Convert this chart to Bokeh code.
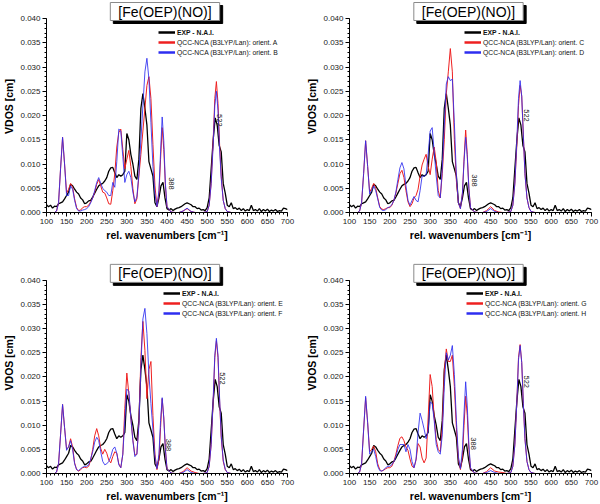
from bokeh.plotting import figure
from bokeh.models import (Label, Legend, LegendItem, SingleIntervalTicker,
                          NumeralTickFormatter, Range1d)
from bokeh.layouts import gridplot
from bokeh.embed import file_html
from bokeh.resources import INLINE

FONT = "Liberation Sans"
NAN = float("nan")

# ---------------- data ----------------
EXP_X = [100, 105, 110, 115, 120, 125, 130, 135, 140, 145,
         150, 155, 160, 165, 170, 175, 180, 185, 190, 195,
         200, 205, 210, 215, 220, 225, 230, 235, 240, 245,
         250, 255, 260, 265, 270, 275, 280, 285, 290, 295,
         300, 305, 310, 315, 320, 325, 330, 335, 340, 345,
         350, 355, 360, 365, 370, 375, 380, 385, 390, 395,
         400, 405, 410, 415, 420, 425, 430, 435, 440, 445,
         450, 455, 460, 465, 470, 475, 480, 485, 490, 495,
         500, 505, 510, 515, 520, 525, 530, 535, 540, 545,
         550, 555, 560, 565, 570, 575, 580, 585, 590, 595,
         600, 605, 610, 615, 620, 625, 630, 635, 640, 645,
         650, 655, 660, 665, 670, 675, 680, 685, 690, 695,
         700]
EXP_Y = [0.0016, 0.0012, 0.0015, 0.0009, 0.0013, 0.0012, 0.0018, 0.0020, 0.0022, 0.0028,
         0.0035, 0.0042, 0.0058, 0.0055, 0.0048, 0.0042, 0.0038, 0.0030, 0.0026, 0.0018,
         0.0020, 0.0024, 0.0025, 0.0032, 0.0040, 0.0048, 0.0055, 0.0058, 0.0060, 0.0065,
         0.0072, 0.0085, 0.0092, 0.0093, 0.0082, 0.0072, 0.0078, 0.0075, 0.0078, 0.0085,
         0.0163, 0.0150, 0.0120, 0.0100, 0.0075, 0.0068, 0.0110, 0.0215, 0.0245, 0.0215,
         0.0180, 0.0105, 0.0090, 0.0075, 0.0020, 0.0012, 0.0030, 0.0055, 0.0062, 0.0030,
         0.0008, 0.0005, 0.0008, 0.0004, 0.0007, 0.0009, 0.0010, 0.0012, 0.0015, 0.0018,
         0.0020, 0.0018, 0.0016, 0.0012, 0.0012, 0.0008, 0.0009, 0.0005, 0.0006, 0.0004,
         0.0010, 0.0030, 0.0090, 0.0150, 0.0195, 0.0180, 0.0138, 0.0125, 0.0060, 0.0040,
         0.0015, 0.0012, 0.0020, 0.0008, 0.0010, 0.0006, 0.0009, 0.0004, 0.0008, 0.0003,
         0.0006, 0.0004, 0.0015, 0.0004, 0.0006, 0.0003, 0.0008, 0.0002, 0.0006, 0.0003,
         0.0007, 0.0002, 0.0005, 0.0003, 0.0006, 0.0002, 0.0004, 0.0003, 0.0009, 0.0008,
         0.0006]

CALC_X = [100, 110, 120, 125, 130, 135, 140, 145, 150, 155,
          160, 165, 170, 175, 180, 185, 190, 195, 200, 205,
          210, 215, 220, 225, 230, 235, 240, 245, 250, 255,
          260, 265, 270, 275, 280, 285, 290, 295, 300, 305,
          310, 315, 320, 325, 330, 335, 340, 345, 350, 355,
          360, 365, 370, 375, 380, 384, 388, 392, 396, 400,
          410, 420, 430, 440, 450, 460, 470, 480, 490, 500,
          505, 510, 515, 519, 523, 527, 531, 535, 540, 545,
          550, 560, 600, 650, 700]

ORIENT_A = [0, 0, 0, 0.0003, 0.002, 0.009, 0.0155, 0.010, 0.004, 0.0048,
            0.006, 0.0052, 0.0028, 0.001, 0.0004, 0.0005, 0.001, 0.0012, 0.0012, 0.0015,
            0.0022, 0.003, 0.0042, 0.0058, 0.0068, 0.0055, 0.0042, 0.004, 0.003, 0.0018,
            0.0017, 0.0045, 0.008, 0.0135, 0.0165, 0.0172, 0.013, 0.009, 0.011, 0.0128,
            0.0095, 0.005, 0.0018, 0.0028, 0.0075, 0.012, 0.0168, 0.0215, 0.0262, 0.028,
            0.0235, 0.014, 0.0055, 0.0012, 0.004, 0.011, 0.0175, 0.013, 0.0055, 0.0012,
            0.0001, 0, 0, 0.0003, 0.0008, 0.0002, 0, 0, 0, 0.0002,
            0.0015, 0.006, 0.015, 0.0235, 0.027, 0.0225, 0.014, 0.0075, 0.0025, 0.0008,
            0.0002, 0, 0, 0, 0]
ORIENT_B = [0, 0, 0, 0.0003, 0.002, 0.009, 0.0155, 0.010, 0.0035, 0.0035,
            0.0055, 0.0048, 0.0025, 0.0008, 0.0003, 0.0003, 0.0005, 0.0006, 0.0008, 0.0012,
            0.002, 0.003, 0.0045, 0.0062, 0.0072, 0.006, 0.005, 0.0045, 0.0042, 0.0035,
            0.0035, 0.0062, 0.0052, 0.0105, 0.0172, 0.0168, 0.0115, 0.0062, 0.0078, 0.0085,
            0.0072, 0.0042, 0.0022, 0.0032, 0.008, 0.015, 0.022, 0.029, 0.0318, 0.0275,
            0.0185, 0.0095, 0.0038, 0.0012, 0.0045, 0.0125, 0.0197, 0.0148, 0.006, 0.0012,
            0.0001, 0, 0, 0.0003, 0.0009, 0.0002, 0, 0, 0, 0.0002,
            0.0015, 0.006, 0.014, 0.022, 0.025, 0.021, 0.013, 0.007, 0.0025, 0.0008,
            0.0002, 0, 0, 0, 0]
ORIENT_C = [0, 0, 0, 0.0003, 0.002, 0.008, 0.0148, 0.0095, 0.0042, 0.005,
            0.006, 0.005, 0.003, 0.0012, 0.0007, 0.0006, 0.0008, 0.001, 0.001, 0.0015,
            0.0025, 0.004, 0.006, 0.008, 0.0087, 0.0072, 0.0045, 0.0022, 0.0012, 0.0018,
            0.003, 0.0035, 0.0048, 0.0075, 0.0098, 0.011, 0.012, 0.0095, 0.0078, 0.011,
            0.0135, 0.0105, 0.0045, 0.003, 0.008, 0.015, 0.0245, 0.029, 0.0338, 0.029,
            0.015, 0.0065, 0.002, 0.0008, 0.004, 0.011, 0.017, 0.012, 0.005, 0.001,
            0.0001, 0, 0, 0.0004, 0.0012, 0.0004, 0.0001, 0, 0, 0.0002,
            0.0015, 0.006, 0.014, 0.022, 0.0262, 0.024, 0.016, 0.008, 0.003, 0.001,
            0.0002, 0, 0, 0, 0]
ORIENT_D = [0, 0, 0, 0.0003, 0.002, 0.008, 0.0148, 0.0095, 0.0038, 0.0045,
            0.0055, 0.0045, 0.0028, 0.001, 0.0005, 0.0004, 0.0006, 0.001, 0.0012, 0.0016,
            0.0025, 0.0042, 0.0068, 0.0092, 0.0103, 0.009, 0.0055, 0.0025, 0.0015, 0.0025,
            0.0033, 0.0025, 0.0022, 0.0045, 0.0075, 0.0075, 0.0078, 0.012, 0.0168, 0.0175,
            0.0125, 0.0075, 0.0035, 0.003, 0.009, 0.018, 0.0265, 0.028, 0.0272, 0.0275,
            0.0185, 0.0075, 0.002, 0.0008, 0.004, 0.0105, 0.0155, 0.0115, 0.0048, 0.001,
            0.0001, 0, 0, 0.0002, 0.0008, 0.0002, 0, 0, 0, 0.0002,
            0.0015, 0.006, 0.015, 0.0235, 0.0272, 0.024, 0.016, 0.008, 0.003, 0.001,
            0.0002, 0, 0, 0, 0]
ORIENT_E = [0, 0, 0, 0.0003, 0.002, 0.008, 0.0143, 0.0095, 0.005, 0.0055,
            0.0072, 0.0055, 0.0022, 0.0008, 0.0005, 0.0008, 0.0012, 0.0013, 0.0012, 0.0015,
            0.0028, 0.005, 0.0078, 0.0093, 0.0078, 0.0052, 0.004, 0.005, 0.0042, 0.0028,
            0.0022, 0.0035, 0.0045, 0.0042, 0.002, 0.0012, 0.004, 0.0135, 0.0208, 0.0165,
            0.0115, 0.007, 0.0038, 0.004, 0.0105, 0.024, 0.0315, 0.0255, 0.0155, 0.0215,
            0.0232, 0.012, 0.004, 0.0008, 0.003, 0.0095, 0.0155, 0.0115, 0.005, 0.001,
            0.0001, 0, 0, 0.0004, 0.0012, 0.0005, 0.0002, 0, 0, 0.0002,
            0.0015, 0.006, 0.015, 0.024, 0.0275, 0.024, 0.015, 0.0075, 0.0025, 0.0008,
            0.0002, 0, 0, 0, 0]
ORIENT_F = [0, 0, 0, 0.0003, 0.002, 0.008, 0.0143, 0.0095, 0.0048, 0.0055,
            0.0068, 0.005, 0.002, 0.0008, 0.0006, 0.001, 0.0013, 0.0015, 0.0015, 0.0018,
            0.003, 0.0045, 0.0065, 0.0075, 0.0068, 0.0045, 0.0025, 0.0018, 0.002, 0.0025,
            0.0035, 0.005, 0.0055, 0.0042, 0.0018, 0.0012, 0.004, 0.011, 0.0175, 0.017,
            0.0115, 0.0068, 0.0035, 0.004, 0.010, 0.022, 0.032, 0.0342, 0.029, 0.0205,
            0.0145, 0.009, 0.0035, 0.001, 0.004, 0.011, 0.0157, 0.0115, 0.005, 0.001,
            0.0001, 0, 0, 0.0002, 0.0008, 0.0002, 0, 0, 0, 0.0002,
            0.0015, 0.006, 0.0155, 0.0245, 0.028, 0.0245, 0.0155, 0.0078, 0.0028, 0.0009,
            0.0002, 0, 0, 0, 0]
ORIENT_G = [0, 0, 0, 0.0003, 0.002, 0.009, 0.0157, 0.0105, 0.0045, 0.005,
            0.0057, 0.0045, 0.002, 0.0008, 0.0005, 0.0007, 0.001, 0.0012, 0.0012, 0.0015,
            0.0025, 0.004, 0.0058, 0.0073, 0.0076, 0.0068, 0.0055, 0.0048, 0.003, 0.0015,
            0.0012, 0.0028, 0.0062, 0.0055, 0.0032, 0.0022, 0.0032, 0.0115, 0.0205, 0.018,
            0.0115, 0.007, 0.005, 0.0045, 0.0095, 0.021, 0.0258, 0.0232, 0.0232, 0.0245,
            0.018, 0.0095, 0.003, 0.0008, 0.0035, 0.010, 0.016, 0.012, 0.005, 0.001,
            0.0001, 0, 0, 0.0004, 0.0012, 0.0005, 0.0003, 0.0002, 0, 0.0002,
            0.0015, 0.006, 0.015, 0.024, 0.0267, 0.023, 0.0145, 0.0072, 0.0025, 0.0008,
            0.0002, 0, 0, 0, 0]
ORIENT_H = [0, 0, 0, 0.0003, 0.002, 0.009, 0.016, 0.0105, 0.004, 0.0045,
            0.005, 0.0035, 0.0015, 0.0006, 0.0005, 0.0008, 0.0012, 0.0015, 0.0015, 0.0018,
            0.0025, 0.0035, 0.005, 0.006, 0.006, 0.006, 0.0045, 0.006, 0.005, 0.0025,
            0.0012, 0.003, 0.0085, 0.0125, 0.011, 0.0092, 0.0072, 0.0088, 0.0148, 0.0145,
            0.011, 0.006, 0.0045, 0.004, 0.008, 0.018, 0.025, 0.0235, 0.0245, 0.0265,
            0.0205, 0.011, 0.0035, 0.001, 0.005, 0.0125, 0.019, 0.014, 0.006, 0.0012,
            0.0001, 0, 0, 0.0002, 0.0006, 0.0002, 0, 0, 0, 0.0002,
            0.0015, 0.006, 0.015, 0.0235, 0.0265, 0.023, 0.0145, 0.0072, 0.0025, 0.0008,
            0.0002, 0, 0, 0, 0]

TITLE = "[Fe(OEP)(NO)]"
EXP_LABEL = "EXP - N.A.I."
CALC_LABEL = "QCC-NCA (B3LYP/Lan): orient. "
PANEL_ORIENTS = [("A", "B"), ("C", "D"), ("E", "F"), ("G", "H")]
PANEL_SERIES = [(ORIENT_A, ORIENT_B), (ORIENT_C, ORIENT_D),
                (ORIENT_E, ORIENT_F), (ORIENT_G, ORIENT_H)]
# peak annotations: (text, x, y) per panel
PANEL_NOTES = [[("522", 530, 0.0190), ("388", 410, 0.0060)],
               [("522", 540, 0.0200), ("388", 410, 0.0066)],
               [("522", 539, 0.0197), ("388", 404, 0.0059)],
               [("522", 540, 0.0190), ("388", 408, 0.0062)]]
Y_MAX = 0.040

RED = "#ee2020"
BLUE = "#2e2ef0"
PX_PER_UNIT = 194 / Y_MAX   # vertical pixels per VDOS unit


def make_panel(idx, width, height, left, right, head, bottom, leg_x):
    """head = free pixels above the 0.040 tick (inside the frame)."""
    red_y, blue_y = PANEL_SERIES[idx]
    o_red, o_blue = PANEL_ORIENTS[idx]
    frame_h = height - bottom
    p = figure(width=width, height=height, output_backend="svg",
               toolbar_location=None,
               x_range=Range1d(100, 700),
               y_range=Range1d(0, Y_MAX + head / PX_PER_UNIT),
               min_border_left=left, min_border_right=right,
               min_border_top=0, min_border_bottom=bottom)
    p.outline_line_color = None
    p.grid.visible = False
    p.background_fill_color = "white"
    p.border_fill_color = "white"

    p.xaxis.ticker = SingleIntervalTicker(interval=50, num_minor_ticks=5)
    p.yaxis.ticker = SingleIntervalTicker(interval=0.005, num_minor_ticks=5)
    p.yaxis.formatter = NumeralTickFormatter(format="0.000")
    p.yaxis.bounds = (0, Y_MAX)
    for ax in (p.xaxis[0], p.yaxis[0]):
        ax.axis_line_color = "black"
        ax.axis_line_width = 1
        ax.major_tick_in = 0
        ax.major_tick_out = 4
        ax.minor_tick_in = 0
        ax.minor_tick_out = 2
        ax.major_tick_line_color = "black"
        ax.minor_tick_line_color = "black"
        ax.major_label_text_font = FONT
        ax.major_label_text_font_size = "8px"
        ax.major_label_text_color = "#222222"
        ax.major_label_standoff = 2
        ax.axis_label_text_font = FONT
        ax.axis_label_text_font_style = "bold"
        ax.axis_label_text_font_size = "10.5px"
        ax.axis_label_text_color = "black"
        ax.axis_label_standoff = 2
    p.xaxis.axis_label = "rel. wavenumbers [cm\u207b\u00b9]"
    p.yaxis.axis_label = "VDOS [cm]"

    p.line(EXP_X, EXP_Y, line_color="black", line_width=1.3)
    p.line(CALC_X, red_y, line_color=RED, line_width=1)
    p.line(CALC_X, blue_y, line_color=BLUE, line_width=1, line_alpha=0.85)

    # legend swatches (thicker, as in the original legend); no visible data
    sw_exp = p.line([NAN], [NAN], line_color="black", line_width=2.5)
    sw_red = p.line([NAN], [NAN], line_color=RED, line_width=2.5)
    sw_blue = p.line([NAN], [NAN], line_color=BLUE, line_width=2.5)

    top_tick = head  # screen y (from frame top) of the 0.040 tick
    common = dict(glyph_width=17, glyph_height=8, label_height=8,
                  label_width=10, spacing=2, padding=0, margin=0,
                  label_standoff=2, border_line_color=None,
                  background_fill_alpha=0, label_text_font=FONT,
                  label_text_font_size="6.8px", label_text_color="#111111")
    leg1_bottom = top_tick + 14 + 4
    leg2_bottom = top_tick + 34 + 4
    leg1 = Legend(items=[LegendItem(label=EXP_LABEL, renderers=[sw_exp])],
                  location=(leg_x, frame_h - leg1_bottom),
                  label_text_font_style="bold", **common)
    leg2 = Legend(items=[LegendItem(label=CALC_LABEL + o_red, renderers=[sw_red]),
                         LegendItem(label=CALC_LABEL + o_blue, renderers=[sw_blue])],
                  location=(leg_x, frame_h - leg2_bottom), **common)
    p.add_layout(leg1)
    p.add_layout(leg2)

    # boxed title with drop shadow
    shadow = Label(x=395, y=Y_MAX, x_units="data", y_units="data", text=TITLE,
                   x_offset=3, y_offset=4, text_font=FONT, text_font_size="14px",
                   text_align="center", text_baseline="middle", text_color="black",
                   background_fill_color="black", border_line_color="black",
                   padding=(8, 1))
    box = Label(x=395, y=Y_MAX, x_units="data", y_units="data", text=TITLE,
                x_offset=0, y_offset=7, text_font=FONT, text_font_size="14px",
                text_align="center", text_baseline="middle", text_color="black",
                background_fill_color="white", border_line_color="#8a8a8a",
                border_line_width=1, padding=(8, 1))
    p.add_layout(shadow)
    p.add_layout(box)

    for txt, nx, ny in PANEL_NOTES[idx]:
        p.add_layout(Label(x=nx, y=ny, text=txt, angle=-90, angle_units="deg",
                           text_font=FONT, text_font_size="7.5px",
                           text_align="center", text_baseline="middle",
                           text_color="#222222"))
    return p


p1 = make_panel(0, 300, 252, 45, 13, 18, 40, 112)
p2 = make_panel(1, 300, 252, 49, 9, 18, 40, 115)
p3 = make_panel(2, 300, 252, 46, 13, 28, 30, 117)
p4 = make_panel(3, 300, 252, 49, 9, 28, 30, 117)

grid = gridplot([[p1, p2], [p3, p4]], toolbar_location=None)

open("out.html", "w").write(file_html(grid, INLINE))
